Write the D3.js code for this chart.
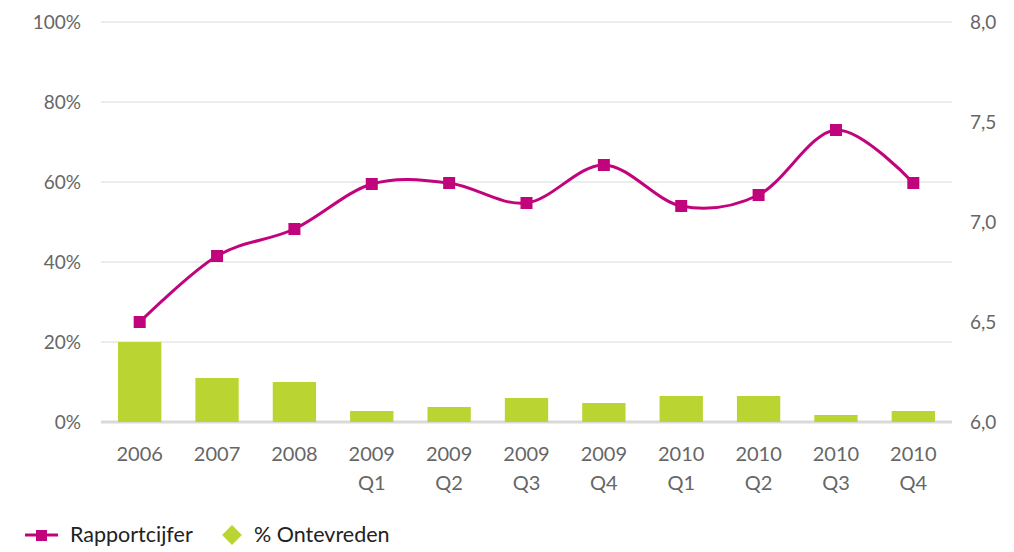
<!DOCTYPE html>
<html>
<head>
<meta charset="utf-8">
<script src="https://cdn.jsdelivr.net/npm/d3@7"></script>
<style>
  body { margin: 0; background: #fff; }
  text { font-family: Lato, "Open Sans", sans-serif; }
</style>
</head>
<body>
<div id="my_dataviz"></div>
<script>
// data
var categories = ["2006", "2007", "2008", "2009 Q1", "2009 Q2", "2009 Q3", "2009 Q4", "2010 Q1", "2010 Q2", "2010 Q3", "2010 Q4"];
var ontevreden = [20, 11, 10, 2.75, 3.75, 6, 4.75, 6.5, 6.5, 1.75, 2.75];
var rapportcijfer = [6.5, 6.83, 6.965, 7.19, 7.195, 7.095, 7.285, 7.08, 7.135, 7.46, 7.195];
var leftTicks = [0, 20, 40, 60, 80, 100];
var rightTicks = [6, 6.5, 7, 7.5, 8];

var margin = {top: 22, right: 62, bottom: 130, left: 101},
    width = 1014 - margin.left - margin.right,
    height = 552 - margin.top - margin.bottom;

var svg = d3.select("#my_dataviz")
  .append("svg")
    .attr("width", 1014)
    .attr("height", 552)
  .append("g")
    .attr("transform", "translate(" + margin.left + "," + margin.top + ")");

var x = d3.scaleBand()
  .domain(categories)
  .range([0, width])
  .paddingInner(0.44)
  .paddingOuter(0.22);

var y = d3.scaleLinear().domain([0, 100]).range([height, 0]);
var y2 = d3.scaleLinear().domain([6, 8]).range([height, 0]);

// gridlines
svg.append("g")
  .selectAll("line")
  .data(leftTicks)
  .enter().append("line")
    .attr("x1", 0)
    .attr("x2", width)
    .attr("y1", function(d) { return y(d); })
    .attr("y2", function(d) { return y(d); })
    .attr("stroke", "#d9d9d9")
    .attr("stroke-width", function(d) { return d === 0 ? 3 : 1.2; });

// left axis
var leftAxis = svg.append("g")
  .call(d3.axisLeft(y).tickValues(leftTicks).tickSize(0).tickPadding(20)
    .tickFormat(function(d) { return d + "%"; }));
leftAxis.select(".domain").remove();
leftAxis.selectAll("text")
  .style("font-family", "Lato, 'Open Sans', sans-serif")
  .style("font-size", "19px")
  .attr("fill", "#666");

// right axis
var rightAxis = svg.append("g")
  .attr("transform", "translate(" + width + ",0)")
  .call(d3.axisRight(y2).tickValues(rightTicks).tickSize(0).tickPadding(18)
    .tickFormat(function(d) { return d3.format(".1f")(d).replace(".", ","); }));
rightAxis.select(".domain").remove();
rightAxis.selectAll("text")
  .style("font-family", "Lato, 'Open Sans', sans-serif")
  .style("font-size", "19px")
  .attr("fill", "#666");

// x labels (two lines)
var xl = svg.append("g")
  .selectAll("text")
  .data(categories)
  .enter().append("text")
    .attr("x", function(d) { return x(d) + x.bandwidth() / 2; })
    .attr("y", height + 39)
    .attr("text-anchor", "middle")
    .attr("fill", "#666")
    .style("font-size", "20px");
xl.each(function(d) {
  var parts = d.split(" ");
  var t = d3.select(this);
  parts.forEach(function(p, i) {
    t.append("tspan")
      .attr("x", x(d) + x.bandwidth() / 2)
      .attr("dy", i === 0 ? 0 : 29)
      .text(p);
  });
});

// bars
svg.append("g")
  .selectAll("rect")
  .data(ontevreden)
  .enter().append("rect")
    .attr("x", function(d, i) { return x(categories[i]); })
    .attr("y", function(d) { return y(d); })
    .attr("width", x.bandwidth())
    .attr("height", function(d) { return height - y(d); })
    .attr("fill", "#bad532");

// line
var line = d3.line()
  .x(function(d, i) { return x(categories[i]) + x.bandwidth() / 2; })
  .y(function(d) { return y2(d); })
  .curve(d3.curveCardinal);

svg.append("path")
  .datum(rapportcijfer)
  .attr("fill", "none")
  .attr("stroke", "#c1047c")
  .attr("stroke-width", 3)
  .attr("d", line);

svg.append("g")
  .selectAll("rect")
  .data(rapportcijfer)
  .enter().append("rect")
    .attr("x", function(d, i) { return x(categories[i]) + x.bandwidth() / 2 - 6; })
    .attr("y", function(d) { return y2(d) - 6; })
    .attr("width", 12)
    .attr("height", 12)
    .attr("fill", "#c1047c");

// legend
var legend = d3.select("svg").append("g");
legend.append("line")
  .attr("x1", 25).attr("x2", 58)
  .attr("y1", 535).attr("y2", 535)
  .attr("stroke", "#c1047c").attr("stroke-width", 3);
legend.append("rect")
  .attr("x", 36).attr("y", 530).attr("width", 11).attr("height", 11)
  .attr("fill", "#c1047c");
legend.append("text")
  .attr("x", 70).attr("y", 542)
  .attr("fill", "#222")
  .style("font-size", "21.5px")
  .text("Rapportcijfer");
legend.append("rect")
  .attr("x", 225).attr("y", 528).attr("width", 14).attr("height", 14)
  .attr("transform", "rotate(45,232,535)")
  .attr("fill", "#bad532");
legend.append("text")
  .attr("x", 254).attr("y", 542)
  .attr("fill", "#222")
  .style("font-size", "21.5px")
  .text("% Ontevreden");
</script>
</body>
</html>
